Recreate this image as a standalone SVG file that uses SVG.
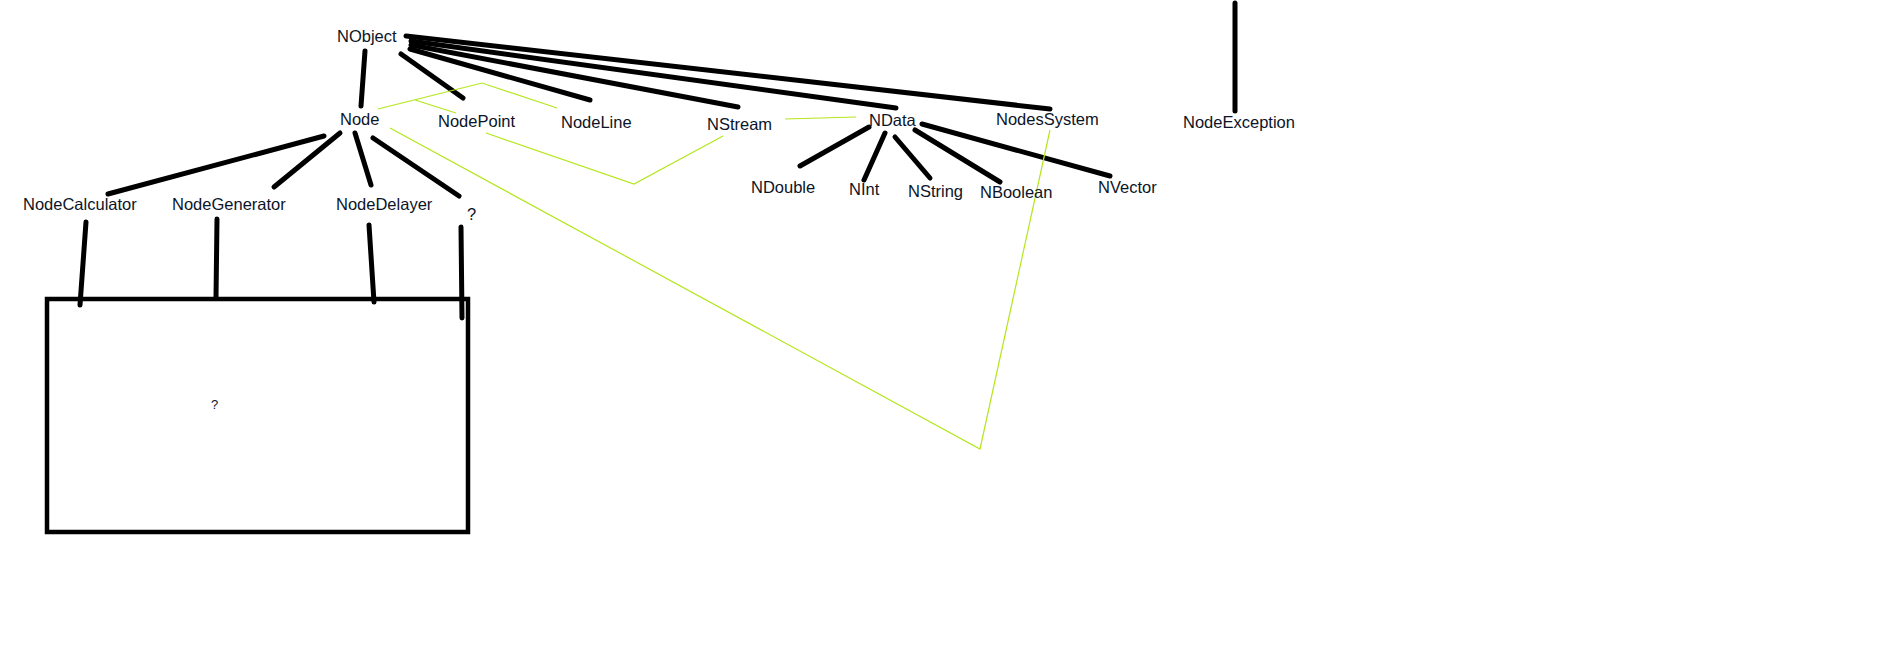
<svg xmlns="http://www.w3.org/2000/svg" width="1902" height="648" viewBox="0 0 1902 648">
<style>
.t{font-family:"Liberation Sans",Arial,sans-serif;font-size:16.5px;fill:#0c1428}
.s{font-family:"Liberation Sans",Arial,sans-serif;font-size:13px;fill:#0c1428}
.k{stroke:#000;stroke-width:5;stroke-linecap:round;fill:none}
.g{stroke:#b5e61d;stroke-width:1.2;fill:none}
</style>
<rect width="1902" height="648" fill="#fff"/>
<g id="connectors">
<line class="k" x1="365" y1="51" x2="361" y2="106"/>
<line class="k" x1="401" y1="54" x2="463" y2="98"/>
<line class="k" x1="410" y1="49" x2="590" y2="100"/>
<line class="k" x1="411" y1="45" x2="738" y2="107"/>
<line class="k" x1="411" y1="41" x2="896" y2="108"/>
<line class="k" x1="406" y1="36" x2="1050" y2="109"/>
<line class="k" x1="1235" y1="3" x2="1235" y2="111"/>
<line class="k" x1="869" y1="127" x2="800" y2="166"/>
<line class="k" x1="885" y1="133" x2="864" y2="180"/>
<line class="k" x1="895" y1="137" x2="930" y2="178"/>
<line class="k" x1="915" y1="130" x2="1000" y2="182"/>
<line class="k" x1="922" y1="124" x2="1110" y2="176"/>
<line class="k" x1="108" y1="194" x2="324" y2="136"/>
<line class="k" x1="274" y1="187" x2="340" y2="133"/>
<line class="k" x1="355" y1="133" x2="371" y2="185"/>
<line class="k" x1="373" y1="138" x2="459" y2="196"/>
<line class="k" x1="86" y1="222" x2="80" y2="305"/>
<line class="k" x1="217" y1="219" x2="216" y2="298"/>
<line class="k" x1="369" y1="225" x2="374" y2="302"/>
<line class="k" x1="461" y1="227" x2="462" y2="318"/>
<polyline class="g" points="378,109 482,83 557,108"/>
<line class="g" x1="415" y1="100" x2="456" y2="113"/>
<polyline class="g" points="486,133 634,184 723,136"/>
<line class="g" x1="785" y1="119" x2="856" y2="117"/>
<polyline class="g" points="390,128 980,449 1050,130"/>
</g>
<g id="box"><rect x="47" y="299" width="421" height="233" fill="none" stroke="#000" stroke-width="4.5"/><text class="s" x="211" y="409">?</text></g>
<g id="NObject"><text class="t" x="337" y="42">NObject</text></g>
<g id="Node"><text class="t" x="340" y="125">Node</text></g>
<g id="NodePoint"><text class="t" x="438" y="127">NodePoint</text></g>
<g id="NodeLine"><text class="t" x="561" y="128">NodeLine</text></g>
<g id="NStream"><text class="t" x="707" y="130">NStream</text></g>
<g id="NData"><text class="t" x="869" y="126">NData</text></g>
<g id="NodesSystem"><text class="t" x="996" y="125">NodesSystem</text></g>
<g id="NodeException"><text class="t" x="1183" y="128">NodeException</text></g>
<g id="NDouble"><text class="t" x="751" y="193">NDouble</text></g>
<g id="NInt"><text class="t" x="849" y="195">NInt</text></g>
<g id="NString"><text class="t" x="908" y="197">NString</text></g>
<g id="NBoolean"><text class="t" x="980" y="198">NBoolean</text></g>
<g id="NVector"><text class="t" x="1098" y="193">NVector</text></g>
<g id="NodeCalculator"><text class="t" x="23" y="210">NodeCalculator</text></g>
<g id="NodeGenerator"><text class="t" x="172" y="210">NodeGenerator</text></g>
<g id="NodeDelayer"><text class="t" x="336" y="210">NodeDelayer</text></g>
<g id="Q"><text class="t" x="467" y="220">?</text></g>
</svg>
